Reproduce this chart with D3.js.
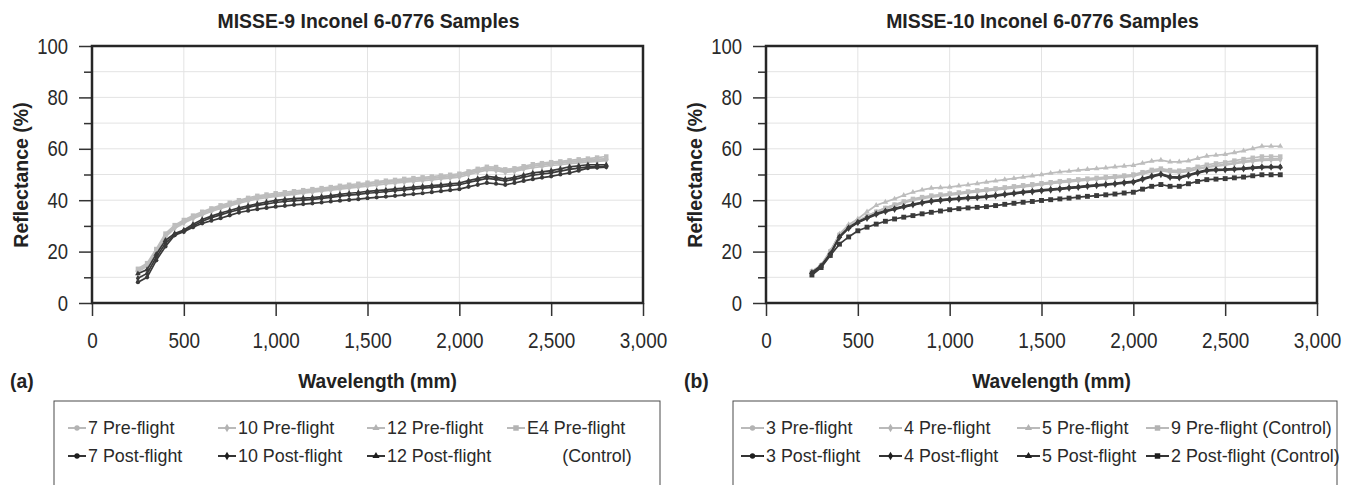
<!DOCTYPE html>
<head>
  <meta charset="utf-8">
  <style>
    body { margin: 0; background: #fff; }
    svg text { font-family: "Liberation Sans", Arial, sans-serif; fill: #222; }
    svg .grid { stroke: #e3e3e3; stroke-width: 1px; }
    svg .frame { fill: none; stroke: #262626; stroke-width: 2.5px; }
    svg .tick line { stroke: #333; stroke-width: 1.5px; }
    svg .tick text { font-size: 22px; fill: #2a2a2a; }
    svg .domain { display: none; }
    svg .title { font-weight: bold; font-size: 20px; }
    svg .alabel { font-weight: bold; font-size: 21px; }
    svg .legtext { font-size: 19px; fill: #2a2a2a; }
  </style>
</head>

<body>
<script src="https://d3js.org/d3.v7.min.js"></script>

<script>
  // wavelengths (nm) shared by all series
  var wavelengths = [250,300,350,400,450,500,550,600,650,700,750,800,850,900,950,1000,1050,1100,1150,1200,1250,1300,1350,1400,1450,1500,1550,1600,1650,1700,1750,1800,1850,1900,1950,2000,2050,2100,2150,2200,2250,2300,2350,2400,2450,2500,2550,2600,2650,2700,2750,2800];

  var xTicks = [0, 500, 1000, 1500, 2000, 2500, 3000];
  var yTicks = [0, 20, 40, 60, 80, 100];
  var yMinor = [10, 30, 50, 70, 90];

  // MISSE-9 (a)
  var m9_7pre   = [12.5,14.8,20.2,26.2,29.6,31.6,33.3,34.8,36.1,37.3,38.3,39.3,40.2,41.0,41.5,42.0,42.4,42.8,43.2,43.6,44.0,44.4,44.9,45.3,45.7,46.1,46.5,46.9,47.2,47.6,47.9,48.2,48.5,48.9,49.2,49.6,50.5,51.5,52.3,52.1,51.3,51.7,52.5,53.3,53.7,54.1,54.4,54.8,55.1,55.4,55.7,56.0];
  var m9_10pre  = [12.0,14.3,19.6,25.6,29.0,31.1,32.8,34.3,35.6,36.8,37.8,38.8,39.7,40.5,41.0,41.5,41.9,42.3,42.7,43.1,43.5,43.9,44.3,44.7,45.1,45.5,45.9,46.3,46.6,47.0,47.3,47.6,47.9,48.3,48.6,49.0,49.9,50.9,51.7,51.5,50.8,51.2,52.0,52.7,53.1,53.5,53.8,54.2,54.5,54.8,55.1,55.4];
  var m9_12pre  = [12.8,15.0,20.5,26.5,29.8,31.8,33.5,35.0,36.3,37.5,38.5,39.5,40.4,41.2,41.7,42.2,42.6,43.0,43.4,43.8,44.2,44.6,45.1,45.5,45.9,46.3,46.7,47.1,47.4,47.8,48.1,48.4,48.7,49.1,49.4,49.8,50.7,51.7,52.5,52.3,51.6,52.0,52.8,53.5,53.9,54.3,54.6,55.0,55.3,55.6,55.9,56.2];
  var m9_E4pre  = [13.3,15.5,21.0,27.0,30.3,32.3,34.0,35.5,36.8,38.0,39.0,40.0,40.9,41.7,42.2,42.7,43.1,43.5,43.9,44.3,44.7,45.1,45.6,46.0,46.4,46.8,47.2,47.6,47.9,48.3,48.6,48.9,49.2,49.6,49.9,50.3,51.2,52.2,53.0,52.9,52.0,52.4,53.2,54.0,54.4,54.8,55.1,55.5,55.9,56.2,56.6,57.0];
  var m9_7post  = [8.1,10.0,16.6,22.0,26.4,27.7,29.5,31.0,32.0,33.0,34.1,35.2,35.9,36.5,37.0,37.5,37.8,38.2,38.5,38.8,39.1,39.5,39.8,40.1,40.4,40.8,41.1,41.4,41.7,42.1,42.4,42.7,43.1,43.5,43.9,44.3,45.2,46.0,46.7,46.4,46.0,46.7,47.5,48.2,48.8,49.3,50.0,50.6,51.5,52.5,52.7,52.9];
  var m9_10post = [9.6,11.5,17.8,23.2,26.7,28.0,30.0,31.8,33.2,34.3,35.4,36.3,37.2,38.0,38.6,39.1,39.5,39.8,40.0,40.3,40.7,41.1,41.6,42.0,42.3,42.7,43.0,43.3,43.7,44.0,44.4,44.7,45.0,45.3,45.7,46.0,46.9,47.7,48.5,48.1,47.5,48.1,49.0,49.7,50.2,50.6,51.3,52.0,52.5,53.0,53.1,53.2];
  var m9_12post = [11.4,13.0,19.0,24.4,27.0,28.4,30.6,32.5,33.8,35.0,36.0,37.0,37.8,38.6,39.3,39.9,40.3,40.6,40.8,41.0,41.4,41.8,42.3,42.7,43.0,43.4,43.7,44.0,44.4,44.7,45.1,45.4,45.7,46.0,46.4,46.7,47.6,48.4,49.3,48.9,48.2,48.9,49.8,50.6,51.0,51.5,52.2,53.0,53.4,53.8,53.8,53.8];

  // MISSE-10 (b)
  var m10_3pre   = [12.4,14.8,20.3,26.6,29.9,31.9,33.9,35.5,36.9,38.1,39.2,40.2,40.9,41.5,41.9,42.3,42.7,43.1,43.5,43.9,44.3,44.7,45.1,45.5,45.9,46.3,46.7,47.1,47.4,47.8,48.1,48.4,48.7,49.0,49.3,49.7,50.5,51.3,51.8,51.2,51.0,51.5,52.4,53.1,53.6,54.0,54.6,55.1,55.6,56.0,56.1,56.2];
  var m10_4pre   = [12.3,14.6,20.1,26.4,29.7,31.7,33.6,35.2,36.6,37.8,38.9,39.9,40.6,41.2,41.6,42.0,42.4,42.8,43.2,43.6,44.0,44.4,44.8,45.2,45.6,46.0,46.4,46.8,47.1,47.5,47.8,48.1,48.4,48.7,49.0,49.4,50.2,51.0,51.5,50.9,50.7,51.2,52.1,52.8,53.2,53.6,54.2,54.7,55.1,55.5,55.6,55.7];
  var m10_5pre   = [12.0,14.5,20.0,26.8,30.5,32.7,35.5,38.0,39.3,40.5,41.9,43.1,44.0,44.7,44.9,45.1,45.6,46.0,46.5,47.0,47.5,48.0,48.5,49.0,49.5,50.0,50.5,51.0,51.3,51.7,52.0,52.3,52.6,53.0,53.3,53.6,54.4,55.2,55.6,54.9,54.9,55.3,56.3,57.2,57.5,57.8,58.5,59.2,60.1,61.0,61.0,61.0];
  var m10_9pre   = [12.2,14.6,20.0,26.5,29.8,31.8,33.8,35.5,37.0,38.3,39.5,40.5,41.2,41.8,42.2,42.6,43.0,43.4,43.8,44.2,44.6,45.0,45.4,45.8,46.2,46.6,47.0,47.4,47.7,48.1,48.4,48.7,49.0,49.3,49.6,50.0,50.9,51.8,52.3,51.7,51.5,52.0,53.0,53.8,54.3,54.7,55.4,56.0,56.5,57.0,57.0,57.0];
  var m10_3post  = [11.8,14.4,19.0,25.7,29.2,31.4,33.1,34.6,35.7,36.6,37.5,38.3,39.0,39.6,40.0,40.3,40.6,40.9,41.1,41.4,41.8,42.3,42.7,43.1,43.4,43.8,44.1,44.4,44.8,45.1,45.5,45.8,46.1,46.4,46.8,47.1,48.2,49.3,50.1,49.0,48.8,49.7,50.7,51.6,51.8,51.9,52.1,52.3,52.6,52.9,52.9,52.9];
  var m10_4post  = [11.6,14.2,18.8,25.5,29.0,31.2,32.9,34.4,35.5,36.4,37.3,38.1,38.8,39.4,39.8,40.1,40.4,40.7,40.9,41.2,41.6,42.1,42.5,42.9,43.2,43.6,43.9,44.2,44.6,44.9,45.3,45.6,45.9,46.2,46.6,46.9,48.0,49.1,49.9,48.8,48.6,49.5,50.5,51.4,51.6,51.7,51.9,52.1,52.4,52.7,52.8,52.8];
  var m10_5post  = [11.9,14.5,19.2,25.9,29.4,31.6,33.3,34.8,35.9,36.8,37.7,38.5,39.2,39.8,40.2,40.5,40.8,41.1,41.3,41.6,42.0,42.5,42.9,43.3,43.6,44.0,44.3,44.6,45.0,45.3,45.7,46.0,46.3,46.6,47.0,47.3,48.4,49.5,50.3,49.2,49.0,49.9,50.9,51.8,52.0,52.1,52.3,52.5,52.8,53.1,53.1,53.1];
  var m10_2post  = [10.9,13.8,18.5,22.9,25.7,28.1,29.5,30.7,31.8,32.7,33.4,34.0,34.7,35.3,35.8,36.3,36.7,37.0,37.2,37.5,37.9,38.4,38.8,39.2,39.5,39.9,40.2,40.5,40.8,41.2,41.5,41.8,42.1,42.4,42.8,43.1,44.3,45.4,46.1,45.4,45.4,46.4,47.3,48.0,48.2,48.4,48.7,49.0,49.5,49.9,49.9,49.9];

  var LIGHT = "#bdbdbd", DARK = "#3a3a3a";
  var LEG_LIGHT = "#b3b3b3", LEG_DARK = "#1e1e1e";

  var svg = d3.select("body").append("svg")
      .attr("width", 1357)
      .attr("height", 485);

  var shapes = {
    circle: d3.symbolCircle, diamond: d3.symbolDiamond,
    triangle: d3.symbolTriangle, square: d3.symbolSquare
  };

  // no narrow font installed: squeeze text horizontally instead
  function condense(sel, factor) {
    sel.each(function () {
      var w = this.getComputedTextLength();
      d3.select(this)
        .attr("textLength", w * factor)
        .attr("lengthAdjust", "spacingAndGlyphs");
    });
  }

  function drawPanel(p) {
    var xScale = d3.scaleLinear().domain([0, 3000]).range([p.left, p.right]);
    var yScale = d3.scaleLinear().domain([0, 100]).range([303, 46]);
    var g = svg.append("g");

    // grid
    g.selectAll("line.hgrid").data(d3.range(0, 101, 10)).join("line")
        .attr("class", "grid")
        .attr("x1", p.left).attr("x2", p.right)
        .attr("y1", function (d) { return yScale(d); })
        .attr("y2", function (d) { return yScale(d); });
    g.selectAll("line.vgrid").data(xTicks).join("line")
        .attr("class", "grid")
        .attr("x1", function (d) { return xScale(d); })
        .attr("x2", function (d) { return xScale(d); })
        .attr("y1", 46).attr("y2", 303);

    // axes
    var xa = g.append("g")
        .attr("transform", "translate(0,303)")
        .call(d3.axisBottom(xScale).tickValues(xTicks).tickSize(13).tickPadding(16).tickFormat(d3.format(",")));
    var ya = g.append("g")
        .attr("transform", "translate(" + p.left + ",0)")
        .call(d3.axisLeft(yScale).tickValues(yTicks).tickSize(13).tickPadding(11));
    g.append("g")
        .attr("transform", "translate(" + p.left + ",0)")
        .call(d3.axisLeft(yScale).tickValues(yMinor).tickSize(8).tickFormat(""));
    condense(xa.selectAll("text"), 0.86);
    condense(ya.selectAll("text"), 0.84);

    // series: pre-flight first, post-flight on top
    var line = d3.line()
        .x(function (d, i) { return xScale(wavelengths[i]); })
        .y(function (d) { return yScale(d); });

    p.series.forEach(function (s) {
      var col = s.post ? DARK : LIGHT;
      g.append("path")
          .attr("d", line(s.values))
          .style("fill", "none")
          .style("stroke", col)
          .style("stroke-width", "1.7px");
      g.selectAll(null).data(s.values).join("path")
          .attr("transform", function (d, i) { return "translate(" + xScale(wavelengths[i]) + "," + yScale(d) + ")"; })
          .attr("d", d3.symbol().type(shapes[s.shape]).size(s.size || 14))
          .style("fill", col);
    });

    // frame
    g.append("rect")
        .attr("class", "frame")
        .attr("x", p.left).attr("y", 46)
        .attr("width", p.right - p.left).attr("height", 257);

    // texts
    var cx = (p.left + p.right) / 2;
    g.append("text").attr("class", "title")
        .attr("x", cx + 1).attr("y", 28)
        .style("text-anchor", "middle")
        .text(p.title)
        .call(condense, 0.97);
    g.append("text").attr("class", "alabel")
        .attr("transform", "translate(" + (p.left - 64) + ",175) rotate(-90)")
        .style("text-anchor", "middle")
        .text("Reflectance (%)")
        .call(condense, 0.93);
    g.append("text").attr("class", "alabel")
        .attr("x", cx + 10).attr("y", 388)
        .style("text-anchor", "middle")
        .text("Wavelength (mm)")
        .call(condense, 0.91);
    g.append("text").attr("class", "alabel")
        .attr("x", p.left - 82).attr("y", 388)
        .text(p.tag)
        .call(condense, 0.92);

    // legend
    var lg = svg.append("g");
    lg.append("rect")
        .attr("x", p.legX).attr("y", 401)
        .attr("width", p.legW).attr("height", 110)
        .style("fill", "none").style("stroke", "#4a4a4a").style("stroke-width", "1px");
    p.series.forEach(function (s) {
      var y = s.post ? 456 : 428;
      var x0 = p.legCols[s.col];
      var col = s.post ? LEG_DARK : LEG_LIGHT;
      lg.append("line")
          .attr("x1", x0).attr("x2", x0 + p.legLine)
          .attr("y1", y).attr("y2", y)
          .style("stroke", col).style("stroke-width", "1.8px");
      lg.append("path")
          .attr("transform", "translate(" + (x0 + p.legLine / 2) + "," + y + ")")
          .attr("d", d3.symbol().type(shapes[s.shape]).size(s.shape === "square" ? 30 : 22))
          .style("fill", col);
      lg.append("text").attr("class", "legtext")
          .attr("x", x0 + p.legLine + 2).attr("y", y + 6)
          .text(s.name)
          .call(condense, 0.94);
    });
    if (p.extra) {
      lg.append("text").attr("class", "legtext")
          .attr("x", p.extra.x).attr("y", 462)
          .style("text-anchor", "middle")
          .text(p.extra.text)
          .call(condense, 0.94);
    }
  }

  drawPanel({
    left: 92, right: 643, title: "MISSE-9 Inconel 6-0776 Samples", tag: "(a)",
    legX: 54, legW: 606, legLine: 18, legCols: [68, 218, 367, 507],
    extra: { x: 597, text: "(Control)" },
    series: [
      { name: "7 Pre-flight",  values: m9_7pre,  shape: "circle",   col: 0 },
      { name: "10 Pre-flight", values: m9_10pre, shape: "diamond",  col: 1 },
      { name: "12 Pre-flight", values: m9_12pre, shape: "triangle", col: 2 },
      { name: "E4 Pre-flight", values: m9_E4pre, shape: "square",   col: 3, size: 20 },
      { name: "7 Post-flight",  values: m9_7post,  shape: "circle",   col: 0, post: true },
      { name: "10 Post-flight", values: m9_10post, shape: "diamond",  col: 1, post: true },
      { name: "12 Post-flight", values: m9_12post, shape: "triangle", col: 2, post: true }
    ]
  });

  drawPanel({
    left: 766, right: 1317, title: "MISSE-10 Inconel 6-0776 Samples", tag: "(b)",
    legX: 733, legW: 604, legLine: 23, legCols: [741, 879, 1017, 1146],
    series: [
      { name: "3 Pre-flight", values: m10_3pre, shape: "circle",   col: 0 },
      { name: "4 Pre-flight", values: m10_4pre, shape: "diamond",  col: 1 },
      { name: "5 Pre-flight", values: m10_5pre, shape: "triangle", col: 2 },
      { name: "9 Pre-flight (Control)", values: m10_9pre, shape: "square", col: 3, size: 20 },
      { name: "3 Post-flight", values: m10_3post, shape: "circle",   col: 0, post: true },
      { name: "4 Post-flight", values: m10_4post, shape: "diamond",  col: 1, post: true },
      { name: "5 Post-flight", values: m10_5post, shape: "triangle", col: 2, post: true },
      { name: "2 Post-flight (Control)", values: m10_2post, shape: "square", col: 3, post: true, size: 24 }
    ]
  });
</script>
</body>
</html>
